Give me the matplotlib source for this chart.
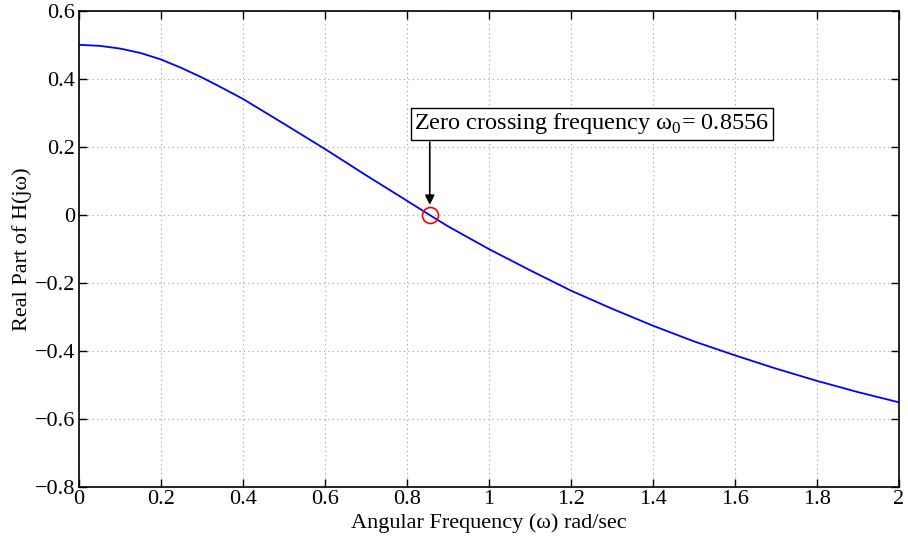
import matplotlib
matplotlib.use("Agg")
import matplotlib.pyplot as plt

# values
omega = [0.0, 0.05, 0.1, 0.15, 0.2, 0.25, 0.3, 0.35, 0.4, 0.5, 0.6, 0.7, 0.8, 0.8556, 0.9,
         1.0, 1.1, 1.2, 1.3, 1.4, 1.5, 1.6, 1.7, 1.8, 1.9, 2.0]
real_h = [0.500, 0.497, 0.489, 0.476, 0.457, 0.432, 0.404, 0.373, 0.341, 0.268, 0.194,
          0.117, 0.042, 0.0, -0.033, -0.100, -0.162, -0.222, -0.275, -0.325, -0.371,
          -0.412, -0.451, -0.487, -0.520, -0.550]
w0 = 0.8556
xticks = [0, 0.2, 0.4, 0.6, 0.8, 1, 1.2, 1.4, 1.6, 1.8, 2]
yticks = [-0.8, -0.6, -0.4, -0.2, 0, 0.2, 0.4, 0.6]

plt.rcParams['font.family'] = ['Liberation Serif', 'DejaVu Serif']
plt.rcParams['mathtext.fontset'] = 'custom'
plt.rcParams['mathtext.rm'] = 'Liberation Serif'
plt.rcParams['font.size'] = 16

fig = plt.figure(figsize=(9.08, 5.38), dpi=100)
ax = fig.add_axes([0.087, 0.094, 0.903, 0.886])

ax.plot(omega, real_h, color='#0000ff', linewidth=1.3)
ax.plot([w0], [0], 'o', markerfacecolor='none', markeredgecolor='#ff0000',
        markersize=11.5, markeredgewidth=1.2)

ax.set_xlim(0, 2)
ax.set_ylim(-0.8, 0.6)
ax.set_xticks(xticks)
ax.set_xticklabels(['0', '0.2', '0.4', '0.6', '0.8', '1', '1.2', '1.4', '1.6', '1.8', '2'])
ax.set_yticks(yticks)
ax.set_yticklabels(['\u22120.8', '\u22120.6', '\u22120.4', '\u22120.2', '0', '0.2', '0.4', '0.6'])
ax.tick_params(direction='in', top=True, right=True, length=6, width=1, pad=3)
ax.tick_params(axis='x', pad=2)
for s in ax.spines.values():
    s.set_linewidth(1.2)
ax.grid(True, linestyle=(0, (1, 3)), color='#a0a0a0', linewidth=0.8)

ax.set_xlabel('Angular Frequency (\u03c9) rad/sec', labelpad=3)
ax.set_ylabel('Real Part of H(j\u03c9)', labelpad=2)

ax.annotate('', xy=(w0, 0.03), xytext=(w0, 0.214),
            arrowprops=dict(arrowstyle='-|>', color='black', lw=1.2,
                            mutation_scale=14, shrinkA=0, shrinkB=0))
ax.text(0.818, 0.268, 'Zero crossing frequency \u03c9$_{\\mathrm{0}}$= 0.8556',
        ha='left', va='center', fontsize=17.5,
        bbox=dict(boxstyle='square,pad=0.15', facecolor='white', edgecolor='black', linewidth=1))

fig.savefig('out.png', dpi=100)
